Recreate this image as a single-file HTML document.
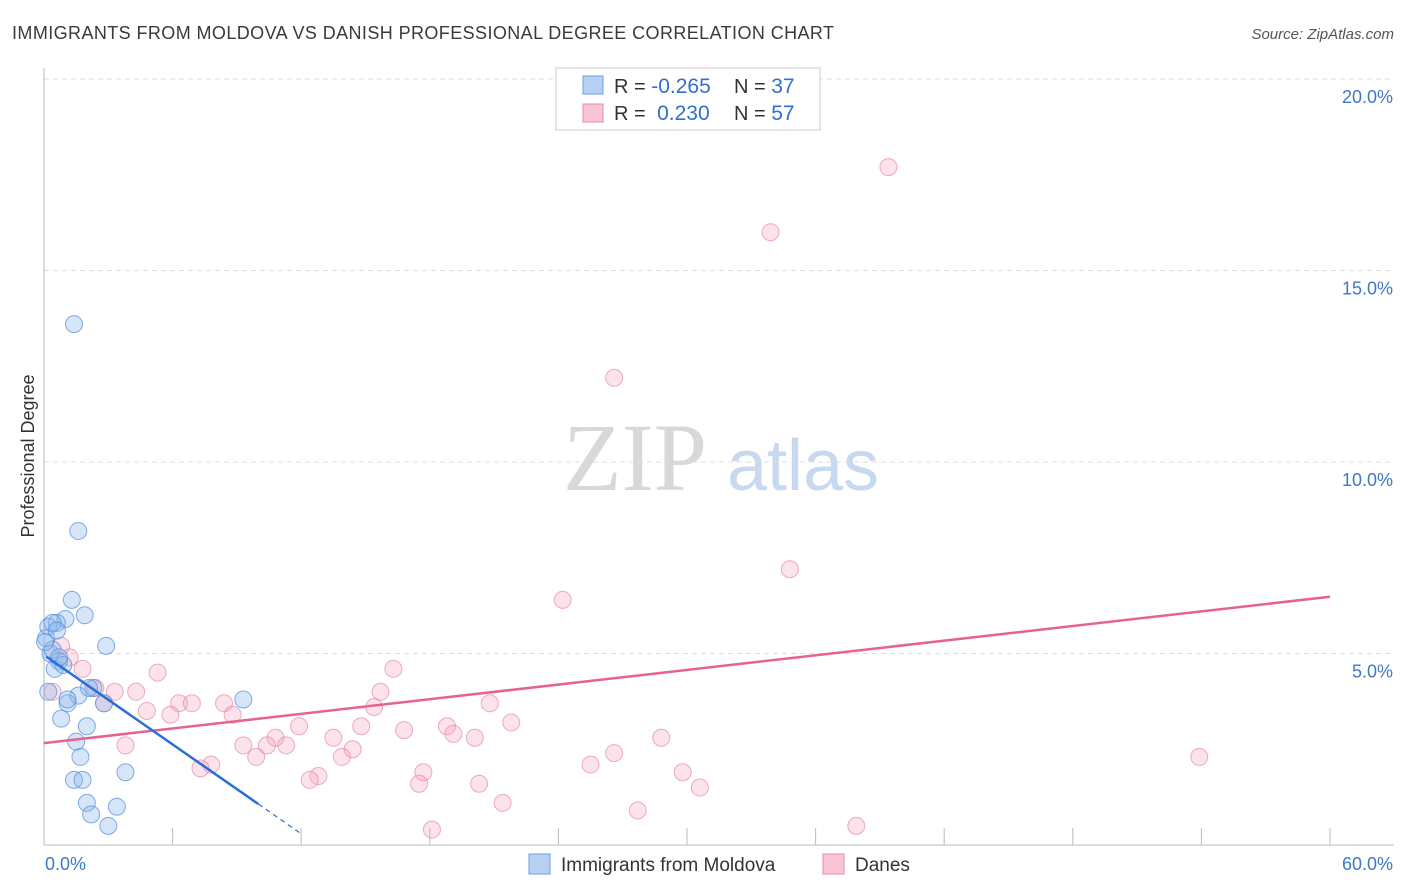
<!DOCTYPE html>
<html><head><meta charset="utf-8"><style>
body{margin:0;background:#fff;font-family:"Liberation Sans",sans-serif;}
#wrap{position:relative;width:1406px;height:892px;overflow:hidden}
</style></head><body>
<div id="wrap">
<svg id="chart" width="1406" height="892"></svg>
</div>
<script>
const blueX=[1.4,1.6,1.3,1.9,1.0,0.6,0.2,0.4,2.9,0.3,0.7,0.9,0.5,0.2,2.3,1.6,2.8,1.1,9.3,0.8,2.0,1.5,1.7,3.8,1.4,1.8,2.0,3.4,2.2,3.0,0.1,0.4,0.7,1.1,2.1,0.05,0.6];
const blueY=[13.6,8.2,6.4,6.0,5.9,5.8,5.7,5.8,5.2,5.0,4.8,4.7,4.6,4.0,4.1,3.9,3.7,3.7,3.8,3.3,3.1,2.7,2.3,1.9,1.7,1.7,1.1,1.0,0.8,0.5,5.4,5.1,4.9,3.8,4.1,5.3,5.6];
const pinkX=[39.4,33.9,26.6,34.8,24.2,16.3,5.3,1.8,0.8,1.2,0.4,2.4,3.3,4.3,6.3,6.9,8.4,2.8,4.8,5.9,8.8,15.7,15.4,20.8,21.8,11.9,14.8,18.8,16.8,19.1,20.1,13.5,10.8,9.3,10.4,11.3,3.8,14.4,13.9,9.9,26.6,25.5,53.9,28.8,7.8,7.3,17.7,29.8,12.8,12.4,20.3,17.5,30.6,21.4,27.7,18.1,37.9];
const pinkY=[17.7,16.0,12.2,7.2,6.4,4.6,4.5,4.6,5.2,4.9,4.0,4.1,4.0,4.0,3.7,3.7,3.7,3.7,3.5,3.4,3.4,4.0,3.6,3.7,3.2,3.1,3.1,3.1,3.0,2.9,2.8,2.8,2.8,2.6,2.6,2.6,2.6,2.5,2.3,2.3,2.4,2.1,2.3,2.8,2.1,2.0,1.9,1.9,1.8,1.7,1.6,1.6,1.5,1.1,0.9,0.4,0.5];
const yTicks=[5,10,15,20];
const yTickLabels=["5.0%","10.0%","15.0%","20.0%"];
const xTickVals=[0,6,12,18,24,30,36,42,48,54,60];
const blueTrend=[4.96,-0.389,10.0,12.0];
const pinkTrend=[2.66,0.0637];

const svg=document.getElementById('chart');
const NS='http://www.w3.org/2000/svg';
const L=44,R=1330,T=79,B=845;
const xs=v=>L+(v/60)*(R-L);
const ys=v=>B-(v/20)*(B-T);
function el(tag,attrs,parent,text){const e=document.createElementNS(NS,tag);for(const k in attrs)e.setAttribute(k,attrs[k]);if(text!==undefined)e.textContent=text;(parent||svg).appendChild(e);return e;}

let t=el('text',{x:12,y:39,'font-size':18,fill:'#3a3a3a',textLength:822,lengthAdjust:'spacing'},svg,'IMMIGRANTS FROM MOLDOVA VS DANISH PROFESSIONAL DEGREE CORRELATION CHART');


t=el('text',{x:1394,y:39,'font-size':15,fill:'#555','font-style':'italic','text-anchor':'end'},svg,'Source: ZipAtlas.com');



t=el('text',{x:635,y:490,'font-size':96,fill:'#d8d8d8','font-family':'Liberation Serif,serif','text-anchor':'middle'},svg,'ZIP');


t=el('text',{x:803,y:490,'font-size':72,fill:'#c8d9ef','text-anchor':'middle'},svg,'atlas');



yTicks.forEach((v,i)=>{
  const g=el('line',{x1:L,x2:1394,y1:ys(v),y2:ys(v),stroke:'#dcdcdc','stroke-dasharray':'5,4'});
  
  
  const lb=el('text',{x:1393,y:ys(v)+24,'font-size':18,fill:'#3f78c9','text-anchor':'end'},svg,yTickLabels[i]);
  
  
});
let a=el('line',{x1:L,x2:L,y1:68,y2:B,stroke:'#bbb'});


a=el('line',{x1:L,x2:1394,y1:B,y2:B,stroke:'#bbb'});


xTickVals.forEach(v=>{
  const tk=el('line',{x1:xs(v),x2:xs(v),y1:828,y2:B,stroke:'#bbb'});
  
  
});
t=el('text',{x:45,y:870,'font-size':18,fill:'#3f78c9'},svg,'0.0%');


t=el('text',{x:1393,y:870,'font-size':18,fill:'#3f78c9','text-anchor':'end'},svg,'60.0%');


t=el('text',{x:34,y:456,'font-size':18,fill:'#333','text-anchor':'middle',transform:'rotate(-90 34 456)'},svg,'Professional Degree');



pinkX.forEach((x,i)=>{
  const c=el('circle',{cx:xs(x),cy:ys(pinkY[i]),r:8.5,fill:'rgba(244,160,185,0.3)',stroke:'rgba(228,120,155,0.6)','stroke-width':1});
  
  
});
blueX.forEach((x,i)=>{
  const c=el('circle',{cx:xs(x),cy:ys(blueY[i]),r:8.5,fill:'rgba(140,180,235,0.35)',stroke:'rgba(80,140,220,0.7)','stroke-width':1});
  
  
});
let ln=el('line',{x1:xs(0),y1:ys(pinkTrend[0]),x2:xs(60),y2:ys(pinkTrend[0]+pinkTrend[1]*60),stroke:'#e8628f','stroke-width':2.5});


ln=el('line',{x1:xs(0.1),y1:ys(blueTrend[0]+blueTrend[1]*0.1),x2:xs(blueTrend[2]),y2:ys(blueTrend[0]+blueTrend[1]*blueTrend[2]),stroke:'#2a6fd6','stroke-width':2.5});


ln=el('line',{x1:xs(blueTrend[2]),y1:ys(blueTrend[0]+blueTrend[1]*blueTrend[2]),x2:xs(blueTrend[3]),y2:ys(blueTrend[0]+blueTrend[1]*blueTrend[3]),stroke:'#2a6fd6','stroke-width':1.2,'stroke-dasharray':'5,4'});



const lg=el('g',{});


el('rect',{x:556,y:68,width:264,height:62,fill:'#fff',stroke:'#ccc'},lg);
el('rect',{x:583,y:76,width:20,height:18,fill:'#b7d0f3',stroke:'#6e9ee0'},lg);
el('rect',{x:583,y:104,width:20,height:18,fill:'#f9c5d4',stroke:'#e98aaa'},lg);
function statLine(y,r,n){
  const tx=el('text',{x:614,y:y,'font-size':20,fill:'#333'},lg);
  tx.innerHTML='R = <tspan font-size="21" fill="#2f6fd0">'+r+'</tspan>';
  const tn=el('text',{x:734,y:y,'font-size':20,fill:'#333'},lg);
  tn.innerHTML='N = <tspan font-size="21" fill="#2f6fd0">'+n+'</tspan>';
}
statLine(93,'-0.265','37');
statLine(120,'&#160;0.230','57');

const bl=el('g',{});


el('rect',{x:529,y:854,width:21,height:20,fill:'#b7d0f3',stroke:'#6e9ee0'},bl);
el('text',{x:561,y:871,'font-size':19,fill:'#333'},bl,'Immigrants from Moldova');
el('rect',{x:823,y:854,width:21,height:20,fill:'#f9c5d4',stroke:'#e98aaa'},bl);
el('text',{x:855,y:871,'font-size':19,fill:'#333'},bl,'Danes');
</script>
</body></html>
